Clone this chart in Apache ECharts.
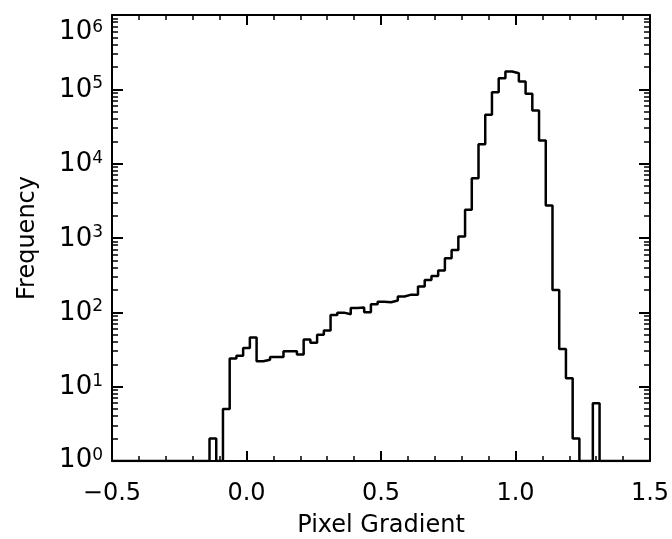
<!DOCTYPE html>
<html>
<head>
<meta charset="utf-8">
<script src="https://cdn.jsdelivr.net/npm/echarts@6/dist/echarts.min.js"></script>
<style>
html,body{margin:0;padding:0;background:#fff;}
#chart{width:672px;height:539px;}
</style>
</head>
<body>
<div id="chart"></div>
<script>
// Histogram bin centers (Pixel Gradient) and counts (Frequency)
var binWidth = 0.025;
var binCenters = [-0.125,-0.1,-0.075,-0.05,-0.025,0.0,0.025,0.05,0.075,0.1,0.125,0.15,0.175,0.2,0.225,0.25,0.275,0.3,0.325,0.35,0.375,0.4,0.425,0.45,0.475,0.5,0.525,0.55,0.575,0.6,0.625,0.65,0.675,0.7,0.725,0.75,0.775,0.8,0.825,0.85,0.875,0.9,0.925,0.95,0.975,1.0,1.025,1.05,1.075,1.1,1.125,1.15,1.175,1.2,1.225,1.25,1.275,1.3];
var counts = [2,1,5,24,26,33,46,22,23,25,25,30,30,27,43,39,50,57,92,99,94,114,116,100,128,139,137,144,163,173,173,222,273,309,364,535,691,1050,2390,6380,18300,45400,91600,141000,174000,165000,127000,87000,51900,20500,2730,200,32,13,2,1,1,6];
var xTickLabels = ['\u22120.5','0.0','0.5','1.0','1.5'];
var xMin = -0.5, xMax = 1.5;
var yMin = 1, yMax = 1e6;

// step points: left edges of bins, closed down to the baseline at both ends
var pts = [[xMin, yMin]];
for (var i = 0; i < binCenters.length; i++) {
  pts.push([binCenters[i] - binWidth / 2, counts[i]]);
}
pts.push([binCenters[binCenters.length - 1] + binWidth / 2, yMin]);
pts.push([xMax, yMin]);

var minorVals = [];
for (var k = 0; k < 6; k++) {
  for (var m = 2; m <= 9; m++) minorVals.push(m * Math.pow(10, k));
}

var font = 'DejaVu Sans';
var lineStyle = {color: '#000', width: 2};

function xAxisCfg(pos, showLabel) {
  return {
    type: 'value', position: pos, min: xMin, max: xMax, interval: 0.5,
    axisLine: {show: true, onZero: false, lineStyle: lineStyle},
    axisTick: {show: true, inside: true, length: 10, lineStyle: lineStyle},
    minorTick: {show: true, splitNumber: 5, length: 5, lineStyle: {color: '#000', width: 1.5}},
    splitLine: {show: false}, minorSplitLine: {show: false},
    axisLabel: {
      show: showLabel, margin: 21, color: '#000', fontFamily: font, fontSize: 24,
      formatter: function (v) {
        var idx = Math.round((v - xMin) / 0.5);
        return xTickLabels[idx];
      }
    },
    name: showLabel ? 'Pixel Gradient' : '',
    nameLocation: 'middle', nameGap: 53,
    nameTextStyle: {color: '#000', fontFamily: font, fontSize: 24}
  };
}

function yMajor(pos, showLabel) {
  return {
    type: 'log', logBase: 10, position: pos, offset: 0, min: yMin, max: yMax, splitNumber: 6,
    axisLine: {show: true, onZero: false, lineStyle: lineStyle},
    axisTick: {show: true, inside: true, length: 11, lineStyle: lineStyle},
    splitLine: {show: false},
    axisLabel: {
      show: showLabel, margin: 9, color: '#000', fontFamily: font,
      formatter: function (v) {
        var e = Math.round(Math.log10(v));
        var suffix = v <= yMin ? 'lo' : (v >= yMax ? 'hi' : '');
        return '{b' + suffix + '|10}{s' + suffix + '|' + e + '}';
      },
      rich: {
        b: {fontSize: 26, fontFamily: font, color: '#000', lineHeight: 28, verticalAlign: 'bottom'},
        s: {fontSize: 17, fontFamily: font, color: '#000', lineHeight: 14, verticalAlign: 'top'},
        blo: {fontSize: 26, fontFamily: font, color: '#000', lineHeight: 28, verticalAlign: 'top', padding: [0, 0, 20, 0]},
        slo: {fontSize: 17, fontFamily: font, color: '#000', lineHeight: 14, verticalAlign: 'top'},
        bhi: {fontSize: 26, fontFamily: font, color: '#000', lineHeight: 28, verticalAlign: 'top', padding: [18, 0, 0, 0]},
        shi: {fontSize: 17, fontFamily: font, color: '#000', lineHeight: 14, verticalAlign: 'top', padding: [18, 0, 0, 0]}
      }
    },
    name: showLabel ? 'Frequency' : '',
    nameLocation: 'middle', nameGap: 72,
    nameTextStyle: {color: '#000', fontFamily: font, fontSize: 24}
  };
}

function yMinor(pos) {
  return {
    type: 'log', logBase: 10, position: pos, offset: 0, min: yMin, max: yMax, splitNumber: 6,
    axisLine: {show: false, onZero: false},
    axisTick: {show: true, inside: true, length: 6, customValues: minorVals, lineStyle: {color: '#000', width: 1.5}},
    splitLine: {show: false},
    axisLabel: {show: false}
  };
}

var chart = echarts.init(document.getElementById('chart'), null, {renderer: 'canvas'});
chart.setOption({
  animation: false,
  backgroundColor: '#fff',
  grid: {left: 112, right: 22, top: 15, bottom: 78, containLabel: false, outerBoundsMode: 'none'},
  xAxis: [xAxisCfg('bottom', true), xAxisCfg('top', false)],
  yAxis: [yMajor('left', true), yMinor('left'), yMajor('right', false), yMinor('right')],
  series: [{
    type: 'line', xAxisIndex: 0, yAxisIndex: 0,
    data: pts, step: 'end', showSymbol: false, symbol: 'none',
    lineStyle: {color: '#000', width: 2.5}, clip: true
  }]
});
</script>
</body>
</html>
